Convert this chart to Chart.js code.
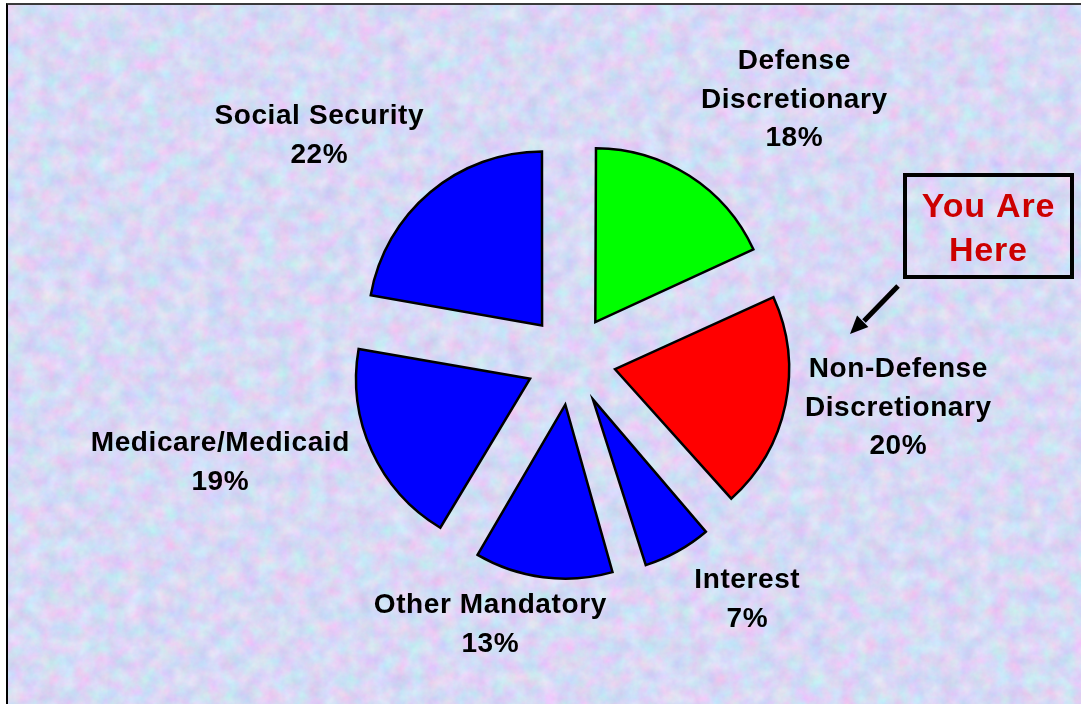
<!DOCTYPE html>
<html>
<head>
<meta charset="utf-8">
<script src="https://cdn.jsdelivr.net/npm/chart.js@4.4.0/dist/chart.umd.min.js"></script>
<style>
  html, body { margin: 0; padding: 0; background: #ffffff; }
  #stage { position: relative; width: 1081px; height: 704px; overflow: hidden; }
  #paper {
    position: absolute; left: 6px; top: 3px; right: 0; bottom: 0;
    border-left: 2px solid #000000; border-top: 2px solid #3a3a3a;
    background-color: #cfd7f5;
  }
  #pie { position: absolute; left: 0; top: 0; }
</style>
</head>
<body>
<div id="stage">
  <div id="paper"></div>
  <canvas id="pie" width="1081" height="704"></canvas>
</div>
<script>
// Budget shares, clockwise from twelve o'clock
const categories = [
  ['Defense', 'Discretionary'],
  ['Non-Defense', 'Discretionary'],
  ['Interest'],
  ['Other Mandatory'],
  ['Medicare/Medicaid'],
  ['Social Security']
];
const shares = [18, 20, 7, 13, 19, 22];
const sliceColors = ['#00ff00', '#ff0000', '#0000ff', '#0000ff', '#0000ff', '#0000ff'];

// Where each caption sits (centre x, baseline of first line)
const captionAnchors = [[794, 69], [898, 377], [747, 588], [490, 613], [220, 451], [319, 124]];

// Tissue-paper backdrop from SVG turbulence
const tissue = "<svg xmlns='http://www.w3.org/2000/svg' width='1081' height='704'>" +
  "<filter id='t' x='0' y='0' width='100%' height='100%' color-interpolation-filters='sRGB'>" +
  "<feTurbulence type='fractalNoise' baseFrequency='0.06' numOctaves='4' seed='11'/>" +
  "<feColorMatrix type='matrix' values='0.26 -0.06 0 0 0.745  -0.06 0.22 0 0 0.77  0 0 0.1 0 0.91  0 0 0 0 1'/>" +
  "</filter><rect width='100%' height='100%' filter='url(#t)'/></svg>";
document.getElementById('paper').style.backgroundImage =
  'url("data:image/svg+xml,' + encodeURIComponent(tissue) + '")';

// Exploded arcs in Chart.js also grow by offset*(1-sin(circumference));
// undo that so every wedge keeps the same radius.
const evenRadius = {
  id: 'evenRadius',
  afterDatasetsUpdate(chart) {
    chart.getDatasetMeta(0).data.forEach(arc => {
      const shift = (arc.options.offset || 0) / 4;
      const fix = 1 - Math.sin(Math.min(Math.PI, arc.circumference));
      arc.outerRadius -= shift * fix;
    });
  }
};

function spacedText(ctx, text, cx, y, spacing) {
  ctx.letterSpacing = spacing + 'px';
  const w = ctx.measureText(text).width - spacing;
  ctx.textAlign = 'left';
  ctx.fillText(text, cx - w / 2, y);
}

const captions = {
  id: 'captions',
  afterDraw(chart) {
    const ctx = chart.ctx;
    ctx.save();
    ctx.fillStyle = '#000000';
    ctx.textBaseline = 'alphabetic';
    ctx.font = 'bold 28px "Liberation Sans", Arial, sans-serif';
    categories.forEach((lines, i) => {
      const [cx, by] = captionAnchors[i];
      const all = lines.concat([shares[i] + '%']);
      all.forEach((t, k) => spacedText(ctx, t, cx, by + k * 38.7, 0.6));
    });

    // "You Are Here" call-out
    ctx.lineWidth = 4;
    ctx.strokeStyle = '#000000';
    ctx.lineJoin = 'miter';
    ctx.strokeRect(905, 175, 167, 102);
    ctx.fillStyle = '#cc0000';
    ctx.font = 'bold 34px "Liberation Sans", Arial, sans-serif';
    spacedText(ctx, 'You Are', 988, 217, 0.8);
    spacedText(ctx, 'Here', 988, 261, 0.8);

    // arrow toward the Non-Defense wedge
    ctx.lineWidth = 5;
    ctx.lineCap = 'butt';
    ctx.beginPath();
    ctx.moveTo(898, 286);
    ctx.lineTo(864, 321);
    ctx.stroke();
    const ang = Math.atan2(334 - 286, 850 - 898);
    ctx.fillStyle = '#000000';
    ctx.beginPath();
    ctx.moveTo(850, 334);
    ctx.lineTo(850 - 18 * Math.cos(ang) + 8 * Math.sin(ang), 334 - 18 * Math.sin(ang) - 8 * Math.cos(ang));
    ctx.lineTo(850 - 18 * Math.cos(ang) - 8 * Math.sin(ang), 334 - 18 * Math.sin(ang) + 8 * Math.cos(ang));
    ctx.closePath();
    ctx.fill();
    ctx.restore();
  }
};

new Chart(document.getElementById('pie'), {
  type: 'pie',
  data: {
    labels: categories.map(l => l.join(' ')),
    datasets: [{
      data: shares,
      backgroundColor: sliceColors,
      borderColor: '#000000',
      borderWidth: 2.5,
      borderJoinStyle: 'miter',
      offset: 180
    }]
  },
  options: {
    responsive: false,
    animation: false,
    events: [],
    radius: 174,
    rotation: 0,
    layout: { padding: { left: 61, top: 16, right: 0, bottom: 0 } },
    plugins: {
      legend: { display: false },
      tooltip: { enabled: false }
    }
  },
  plugins: [evenRadius, captions]
});
</script>
</body>
</html>
